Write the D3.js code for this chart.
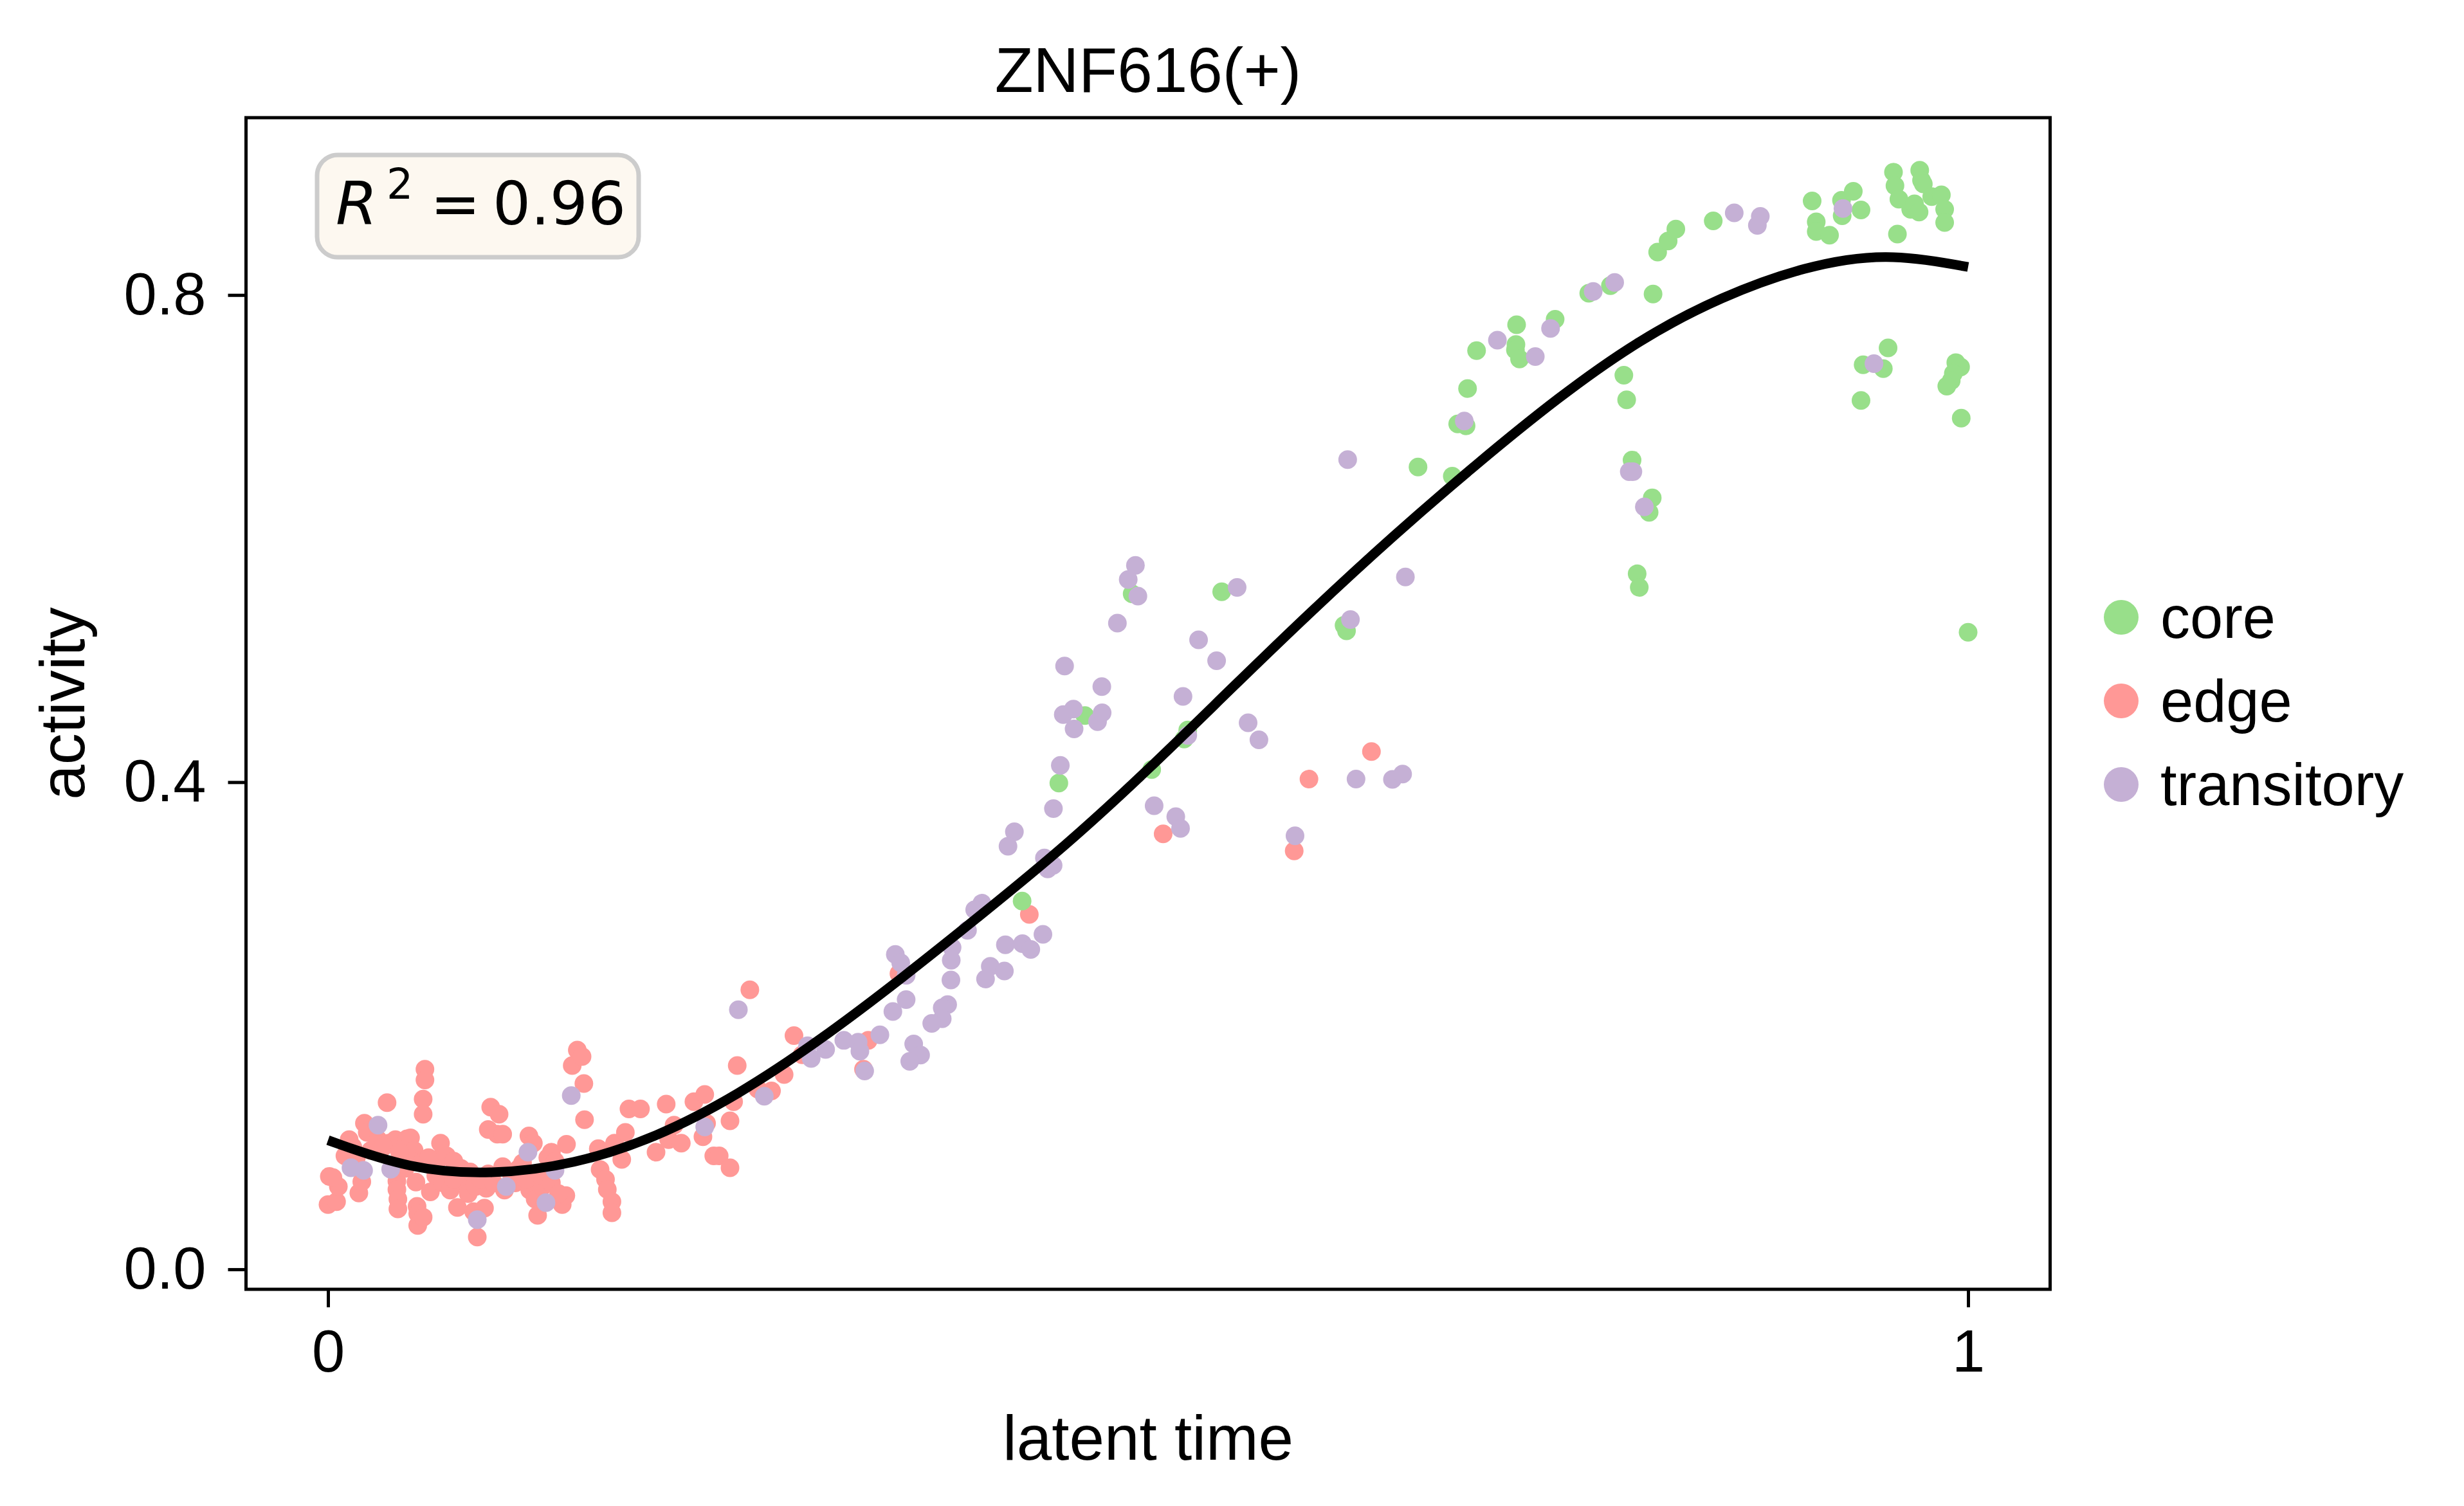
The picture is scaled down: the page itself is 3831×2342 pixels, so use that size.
<!DOCTYPE html>
<html>
<head>
<meta charset="utf-8">
<script src="https://cdn.jsdelivr.net/npm/d3@7"></script>
<style>
  html, body { margin: 0; padding: 0; background: #ffffff; }
  svg { display: block; }
</style>
</head>
<body>
<svg id="chart" width="3831" height="2342"></svg>
<script>
// ---------------- data ----------------
const categories = ["core", "edge", "transitory"];
const categoryColors = ["#98df8a", "#ff9896", "#c5b0d5"];
const titleText = "ZNF616(+)";
const xLabel = "latent time";
const yLabel = "activity";
const r2Value = "0.96";
const xTicks = [0, 1];
const yTicks = [0.0, 0.4, 0.8];

// points: [latent time, activity]
const edgePts = [
  [0.000,0.0532],[0.0052,0.0556],[0.0008,0.0763],[0.0063,0.0680],[0.0030,0.0754],
  [0.0129,0.1065],[0.0103,0.0932],[0.0188,0.0627],[0.0206,0.0719],[0.0222,0.1199],
  [0.0239,0.1124],[0.0151,0.1006],[0.0305,0.1065],[0.0360,0.1368],[0.0371,0.1036],
  [0.0411,0.1065],[0.0420,0.0724],[0.0420,0.0656],[0.0426,0.0576],[0.0426,0.0496],
  [0.0481,0.1071],[0.0503,0.1080],[0.0525,0.0976],[0.0514,0.0888],[0.0536,0.0716],
  [0.0543,0.0517],[0.0547,0.0458],[0.0547,0.0360],[0.0580,0.0428],[0.0591,0.1643],
  [0.0591,0.1554],[0.0580,0.1397],[0.0580,0.1273],[0.0624,0.0636],[0.0635,0.0858],
  [0.0686,0.1036],[0.0679,0.0911],[0.0723,0.0932],[0.0767,0.0888],[0.0789,0.0508],
  [0.0811,0.0828],[0.0833,0.0710],[0.0866,0.0799],[0.0888,0.0473],[0.0910,0.0265],
  [0.0954,0.0502],[0.0965,0.0665],[0.0977,0.0784],[0.0992,0.1332],[0.1043,0.1273],
  [0.0977,0.1148],[0.1032,0.1110],[0.1065,0.1110],[0.1065,0.0843],[0.1076,0.0650],
  [0.1142,0.0710],[0.1186,0.0873],[0.1225,0.1095],[0.1252,0.1036],[0.1230,0.0650],
  [0.1263,0.0576],[0.1278,0.0443],[0.1307,0.0680],[0.1340,0.0917],[0.1362,0.0962],
  [0.1384,0.0888],[0.1428,0.0532],[0.1450,0.0606],[0.1454,0.1027],[0.1489,0.1673],
  [0.1520,0.1800],[0.1549,0.1747],[0.1560,0.1525],[0.1564,0.1228],[0.1648,0.0991],
  [0.1659,0.0819],[0.1692,0.0739],[0.1703,0.0656],[0.1731,0.0556],[0.1731,0.0464],
  [0.1747,0.1036],[0.1791,0.0902],[0.1813,0.1124],[0.1835,0.1317],[0.1905,0.1317],
  [0.2000,0.0962],[0.2062,0.1356],[0.2077,0.1065],[0.2110,0.1184],[0.2154,0.1036],
  [0.2231,0.1376],[0.2286,0.1089],[0.2297,0.1436],[0.2308,0.1199],[0.2352,0.0932],
  [0.2385,0.0932],[0.2451,0.0834],[0.2451,0.1219],[0.2473,0.1376],[0.2495,0.1673],
  [0.2572,0.2295],[0.2621,0.1480],[0.2704,0.1465],[0.2781,0.1599],[0.2841,0.1919],
  [0.2891,0.1762],[0.3265,0.1643],[0.3294,0.1880],
  [0.0173,0.0917],[0.0261,0.0976],[0.0338,0.1006],[0.0437,0.0962],[0.0470,0.0828],
  [0.0569,0.0873],[0.0613,0.0917],[0.0657,0.0769],[0.0701,0.0710],[0.0745,0.0650],
  [0.0767,0.0739],[0.0855,0.0621],[0.0899,0.0680],[0.0932,0.0739],[0.1009,0.0710],
  [0.1120,0.0769],[0.1164,0.0828],[0.1208,0.0739],[0.1296,0.0769],[0.1362,0.0710],
  [0.1406,0.0621],
  [0.3481,0.2428],[0.4276,0.2914],[0.5092,0.3575],[0.5891,0.3436],[0.5981,0.4025],
  [0.6362,0.4251]
];

const corePts = [
  [0.4615,0.4547],[0.5242,0.4428],[0.5220,0.4354],[0.5022,0.4103],[0.4456,0.3993],
  [0.4232,0.3024],[0.6646,0.6588],[0.4903,0.5546],[0.5449,0.5563],[0.6195,0.5288],
  [0.6210,0.5243],
  [0.6855,0.6512],[0.6888,0.6941],[0.6939,0.6926],[0.6948,0.7232],[0.7003,0.7543],
  [0.7247,0.7756],[0.7243,0.7593],[0.7240,0.7549],[0.7265,0.7475],[0.7482,0.7801],
  [0.7687,0.8014],[0.7819,0.8076],[0.8079,0.8008],[0.8107,0.8352],[0.8171,0.8444],
  [0.8218,0.8541],[0.8446,0.8609],[0.9049,0.8772],[0.9074,0.8601],[0.9074,0.8521],
  [0.9155,0.8491],[0.9232,0.8651],[0.9228,0.8778],[0.9300,0.8852],[0.9347,0.8698],
  [0.9545,0.9009],[0.9554,0.8897],[0.9578,0.8787],[0.9569,0.8500],[0.9705,0.9024],
  [0.9716,0.8941],[0.9727,0.8912],[0.9650,0.8704],[0.9673,0.8749],[0.9701,0.8681],
  [0.9778,0.8808],[0.9837,0.8823],[0.9857,0.8704],[0.9857,0.8595],
  [0.7901,0.7341],[0.7918,0.7140],[0.7951,0.6645],[0.8074,0.6334],[0.8055,0.6215],
  [0.7982,0.5711],[0.7995,0.5599],[0.9512,0.7566],[0.9360,0.7427],[0.9483,0.7395],
  [0.9347,0.7134],[0.9925,0.7445],[0.9954,0.7409],[0.9910,0.7356],[0.9897,0.7297],
  [0.9870,0.7252],[0.9958,0.6989],[1.0000,0.5231]
];

const transitoryPts = [
  [0.0140,0.0834],[0.0217,0.0813],[0.0305,0.1184],[0.0382,0.0822],[0.0910,0.0407],
  [0.1087,0.0680],[0.1219,0.0962],[0.1329,0.0547],[0.1384,0.0813],[0.1483,0.1427],
  [0.2297,0.1169],[0.2502,0.2132],[0.2660,0.1421],[0.2924,0.1836],[0.2946,0.1732],
  [0.3034,0.1806],[0.3145,0.1880],[0.3232,0.1865],[0.3243,0.1791],[0.3272,0.1628],
  [0.4483,0.4555],[0.4549,0.4437],[0.4545,0.4600],[0.4692,0.4497],[0.4720,0.4570],
  [0.5610,0.4488],[0.5676,0.4348],[0.5242,0.4384],[0.4465,0.4138],[0.4423,0.3783],
  [0.4185,0.3593],[0.4146,0.3474],[0.4368,0.3377],[0.4421,0.3317],[0.4388,0.3288],
  [0.3987,0.3006],[0.3943,0.2953],[0.3899,0.2784],[0.3805,0.2642],[0.3800,0.2538],
  [0.3798,0.2375],[0.4359,0.2751],[0.4130,0.2665],[0.4234,0.2674],[0.4285,0.2627],
  [0.4038,0.2488],[0.4124,0.2449],[0.4009,0.2384],[0.3459,0.2585],[0.3492,0.2517],
  [0.3525,0.2414],[0.3525,0.2215],[0.3444,0.2117],[0.3778,0.2174],[0.3745,0.2147],
  [0.3745,0.2058],[0.3681,0.2019],[0.3365,0.1925],[0.3571,0.1850],[0.3613,0.1759],
  [0.3547,0.1708],[0.5037,0.3806],[0.5169,0.3717],[0.5198,0.3620],[0.5896,0.3560],
  [0.6268,0.4025],[0.6490,0.4023],[0.6552,0.4067],
  [0.6217,0.6648],[0.4923,0.5780],[0.4879,0.5664],[0.4938,0.5528],[0.4813,0.5306],
  [0.5543,0.5599],[0.5308,0.5169],[0.5418,0.4997],[0.5213,0.4704],[0.4491,0.4953],
  [0.4718,0.4784],[0.6569,0.5685],[0.6234,0.5335],
  [0.6928,0.6965],[0.7130,0.7629],[0.7361,0.7495],[0.7454,0.7726],[0.7714,0.8029],
  [0.7845,0.8103],[0.8574,0.8675],[0.8733,0.8645],[0.8715,0.8571],[0.9237,0.8710],
  [0.7934,0.6550],[0.7956,0.6550],[0.8026,0.6260],[0.9426,0.7436]
];

// fitted trend at even latent-time steps
const fitX = [0.00,0.05,0.10,0.15,0.20,0.25,0.30,0.35,0.40,0.45,0.50,
              0.55,0.60,0.65,0.70,0.75,0.80,0.85,0.90,0.95,1.00];
const fitY = [0.106,0.082,0.0775,0.086,0.108,0.143,0.188,0.239,0.293,0.348,0.410,
              0.476,0.541,0.603,0.661,0.716,0.764,0.799,0.8235,0.8352,0.823];

// ---------------- drawing ----------------
const svg = d3.select("#chart");
const plot = { left: 382.5, right: 3187.5, top: 183, bottom: 2005 };

const x = d3.scaleLinear().domain([-0.05, 1.05]).range([plot.left, plot.right]);
const y = d3.scaleLinear().domain([-0.0164, 0.9456]).range([plot.bottom, plot.top]);
const color = d3.scaleOrdinal().domain(categories).range(categoryColors);

const sansFont = "'Liberation Sans', Arial, Helvetica, sans-serif";

svg.append("rect").attr("width", 3831).attr("height", 2342).attr("fill", "#ffffff");

// points
const layers = [["edge", edgePts], ["core", corePts], ["transitory", transitoryPts]];
const gPts = svg.append("g");
layers.forEach(([cat, pts]) => {
  gPts.append("g").selectAll("circle").data(pts).join("circle")
    .attr("cx", d => x(d[0]))
    .attr("cy", d => y(d[1]))
    .attr("r", 14.5)
    .attr("fill", color(cat));
});

// fit line
const fitData = fitX.map((v, i) => [v, fitY[i]]);
const line = d3.line().x(d => x(d[0])).y(d => y(d[1])).curve(d3.curveBasis);
svg.append("path").datum(fitData)
  .attr("d", line)
  .attr("fill", "none")
  .attr("stroke", "#000000")
  .attr("stroke-width", 15)
  .attr("stroke-linecap", "butt");

// axes
const xAxis = d3.axisBottom(x).tickValues(xTicks).tickFormat(d3.format("d"))
  .tickSize(28).tickPadding(35);
const yAxis = d3.axisLeft(y).tickValues(yTicks).tickFormat(d3.format(".1f"))
  .tickSize(28).tickPadding(34);

const gx = svg.append("g").attr("transform", `translate(0,${plot.bottom})`).call(xAxis);
const gy = svg.append("g").attr("transform", `translate(${plot.left},0)`).call(yAxis);
[gx, gy].forEach(g => {
  g.select(".domain").remove();
  g.selectAll(".tick line").attr("stroke", "#000").attr("stroke-width", 5);
  g.selectAll(".tick text").attr("fill", "#000")
    .style("font-family", sansFont).style("font-size", "92px");
});

// frame
svg.append("rect")
  .attr("x", plot.left).attr("y", plot.top)
  .attr("width", plot.right - plot.left).attr("height", plot.bottom - plot.top)
  .attr("fill", "none").attr("stroke", "#000").attr("stroke-width", 5);

// title and labels
svg.append("text").attr("x", (plot.left + plot.right) / 2).attr("y", 143)
  .attr("text-anchor", "middle").style("font-family", sansFont).style("font-size", "98px")
  .text(titleText);
svg.append("text").attr("x", (plot.left + plot.right) / 2).attr("y", 2270)
  .attr("text-anchor", "middle").style("font-family", sansFont).style("font-size", "98px")
  .text(xLabel);
svg.append("text")
  .attr("transform", `translate(131,${(plot.top + plot.bottom) / 2}) rotate(-90)`)
  .attr("text-anchor", "middle").style("font-family", sansFont).style("font-size", "98px")
  .text(yLabel);

// R^2 box
svg.append("rect").attr("x", 493).attr("y", 241).attr("width", 500).attr("height", 159)
  .attr("rx", 32).attr("ry", 32)
  .attr("fill", "#fdf8f0").attr("stroke", "#cccccc").attr("stroke-width", 7);
const r2 = svg.append("text").attr("y", 349)
  .style("font-family", "'DejaVu Sans', sans-serif").style("font-size", "93px").attr("fill", "#000");
r2.append("tspan").attr("x", 522).style("font-style", "italic").text("R");
r2.append("tspan").attr("x", 601).attr("dy", -40).style("font-size", "65px").text("2");
r2.append("tspan").attr("x", 669).attr("dy", 40).text("=");
r2.append("tspan").attr("x", 766).text(r2Value);

// legend
const legend = svg.append("g");
const legendY = d3.scalePoint().domain(categories).range([960, 1220]);
categories.forEach(cat => {
  legend.append("circle").attr("cx", 3298).attr("cy", legendY(cat)).attr("r", 27)
    .attr("fill", color(cat));
  legend.append("text").attr("x", 3359).attr("y", legendY(cat)).attr("dy", "0.35em")
    .style("font-family", sansFont).style("font-size", "92px").text(cat);
});
</script>
</body>
</html>
